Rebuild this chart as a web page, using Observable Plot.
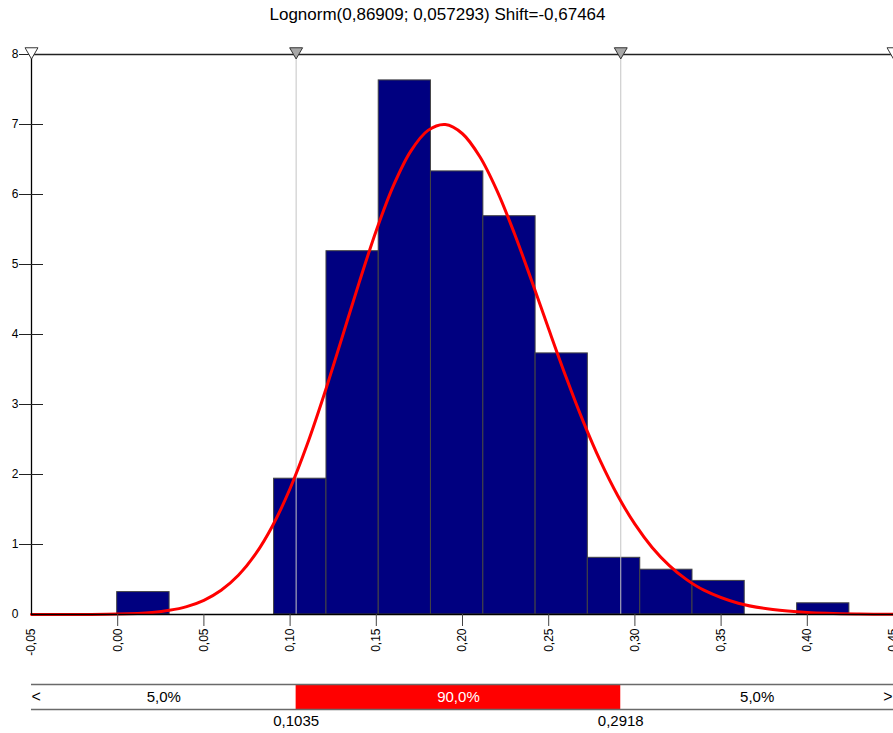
<!DOCTYPE html>
<html>
<head>
<meta charset="utf-8">
<script src="https://cdn.jsdelivr.net/npm/d3@7"></script>
<script src="https://cdn.jsdelivr.net/npm/@observablehq/plot@0.6"></script>
<style>
  body { margin: 0; background: white; }
  #wrap { position: relative; width: 893px; height: 733px; overflow: hidden; font-family: "Liberation Sans", Arial, sans-serif; }
  #title { position: absolute; left: 0; top: 5px; width: 875px; text-align: center; font-size: 17px; line-height: 20px; color: #000; }
  #main { position: absolute; left: 0; top: 0; }
  #band { position: absolute; left: 0; top: 670px; }
</style>
</head>
<body>
<div id="wrap">
  <div id="main"></div>
  <div id="band"></div>
  <div id="title">Lognorm(0,86909; 0,057293) Shift=-0,67464</div>
</div>
<script>
// Histogram bins (density)
const binStart = [-0.0003, 0.0907, 0.1211, 0.1514, 0.1817, 0.2121, 0.2424, 0.2727, 0.3031, 0.3334, 0.3941];
const binEnd   = [0.0301, 0.1211, 0.1514, 0.1817, 0.2121, 0.2424, 0.2727, 0.3031, 0.3334, 0.3637, 0.4244];
const density  = [0.32, 1.94, 5.19, 7.63, 6.33, 5.69, 3.73, 0.81, 0.64, 0.48, 0.16];

// Fitted curve
const curveX = [-0.05, -0.02, 0.00, 0.02, 0.03, 0.04, 0.05, 0.06, 0.07, 0.08, 0.09, 0.10, 0.11, 0.12, 0.13, 0.14, 0.15, 0.16, 0.17, 0.18, 0.19, 0.20, 0.21, 0.22, 0.23, 0.24, 0.25, 0.26, 0.27, 0.28, 0.29, 0.30, 0.31, 0.32, 0.33, 0.34, 0.36, 0.38, 0.40, 0.43, 0.45];
const curveY = [0, 0.0005, 0.006, 0.030, 0.060, 0.113, 0.203, 0.346, 0.560, 0.865, 1.276, 1.800, 2.435, 3.161, 3.945, 4.738, 5.486, 6.130, 6.620, 6.916, 6.999, 6.868, 6.542, 6.055, 5.450, 4.776, 4.078, 3.396, 2.759, 2.190, 1.700, 1.290, 0.958, 0.698, 0.498, 0.348, 0.161, 0.070, 0.028, 0.006, 0.002];

// Axis ticks
const xTicks = [-0.05, 0.00, 0.05, 0.10, 0.15, 0.20, 0.25, 0.30, 0.35, 0.40, 0.45];
const yTicks = [0, 1, 2, 3, 4, 5, 6, 7, 8];

// Delimiters / markers
const leftCut = 0.1035, rightCut = 0.2918;
const markerX = [-0.05, 0.1035, 0.2918, 0.45];
const markerFill = ["white", "#a8a8a8", "#a8a8a8", "white"];
const bandLabels = ["5,0%", "90,0%", "5,0%"];
const bandLabelX = [(-0.05 + leftCut) / 2, (leftCut + rightCut) / 2, (rightCut + 0.45) / 2];
const bandLabelColor = ["black", "white", "black"];
const cutLabels = ["0,1035", "0,2918"];

const fmt = d => d.toFixed(2).replace(".", ",");
const xDomain = [-0.05, 0.45];

const bins = binStart.map((s, i) => ({x1: s, x2: binEnd[i], y: density[i]}));
const curve = curveX.map((x, i) => ({x, y: curveY[i]}));
const markers = markerX.map((x, i) => ({x, fill: markerFill[i]}));

const main = Plot.plot({
  width: 893,
  height: 660,
  marginTop: 54,
  marginBottom: 46,
  marginLeft: 31,
  marginRight: 0,
  style: {fontFamily: "'Liberation Sans', Arial, sans-serif", fontSize: "12px", background: "white"},
  x: {domain: xDomain, axis: null},
  y: {domain: [0, 8], axis: null},
  marks: [
    Plot.rectY(bins, {x1: "x1", x2: "x2", y1: 0, y2: "y", fill: "#000080", stroke: "#444", strokeWidth: 1}),
    Plot.ruleX([leftCut, rightCut], {y1: 0, y2: 8, stroke: "#c4c4c4", strokeWidth: 1}),
    Plot.line(curve, {x: "x", y: "y", stroke: "#ff0000", strokeWidth: 3, curve: "catmull-rom"}),
    Plot.ruleY([0], {stroke: "#000", strokeWidth: 1.3}),
    Plot.ruleY([8], {stroke: "#222", strokeWidth: 1.3}),
    Plot.ruleX([-0.05], {y1: 0, y2: 8, stroke: "#000", strokeWidth: 1.3}),
    Plot.axisY({ticks: yTicks, tickSize: 0, tickPadding: 13, tickFormat: d => String(d), fontSize: 12, fill: "#000", label: null}),
    Plot.axisY({ticks: yTicks.slice(1), tickSize: 24, dx: 12, tickFormat: () => "", stroke: "#222", label: null}),
    Plot.axisX({ticks: xTicks.slice(1), tickSize: 12, tickFormat: () => "", stroke: "#444", label: null}),
    Plot.axisX({ticks: xTicks, tickSize: 0, tickPadding: 14, tickRotate: -90, tickFormat: fmt, fontSize: 12, fill: "#000", label: null}),
    Plot.dot(markers, {x: "x", y: 8, symbol: "triangle", rotate: 180, r: 4.8, dy: -3, fill: "fill", stroke: "#333", strokeWidth: 1})
  ]
});
document.getElementById("main").appendChild(main);

const band = Plot.plot({
  width: 893,
  height: 63,
  marginTop: 14,
  marginBottom: 24,
  marginLeft: 31,
  marginRight: 0,
  style: {fontFamily: "'Liberation Sans', Arial, sans-serif", fontSize: "15px", background: "white", overflow: "visible"},
  x: {domain: xDomain, axis: null},
  y: {domain: [0, 1], axis: null},
  marks: [
    Plot.rect([{x1: leftCut, x2: rightCut}], {x1: "x1", x2: "x2", y1: 0, y2: 1, fill: "#ff0000"}),
    Plot.ruleY([0, 1], {x1: xDomain[0], x2: xDomain[1], stroke: "#6a6a6a", strokeWidth: 1.5}),
    Plot.text(bandLabels, {x: (d, i) => bandLabelX[i], y: 0.5, text: d => d, fill: (d, i) => bandLabelColor[i], fontSize: 15}),
    Plot.text(["<"], {frameAnchor: "left", y: 0.5, dx: 0, textAnchor: "start", fontSize: 16, fill: "#000"}),
    Plot.text([">"], {frameAnchor: "right", y: 0.5, dx: -1, textAnchor: "end", fontSize: 16, fill: "#000"}),
    Plot.text(cutLabels, {x: (d, i) => [leftCut, rightCut][i], y: 0, dy: 12, text: d => d, fontSize: 15, fill: "#000"})
  ]
});
document.getElementById("band").appendChild(band);
</script>
</body>
</html>
